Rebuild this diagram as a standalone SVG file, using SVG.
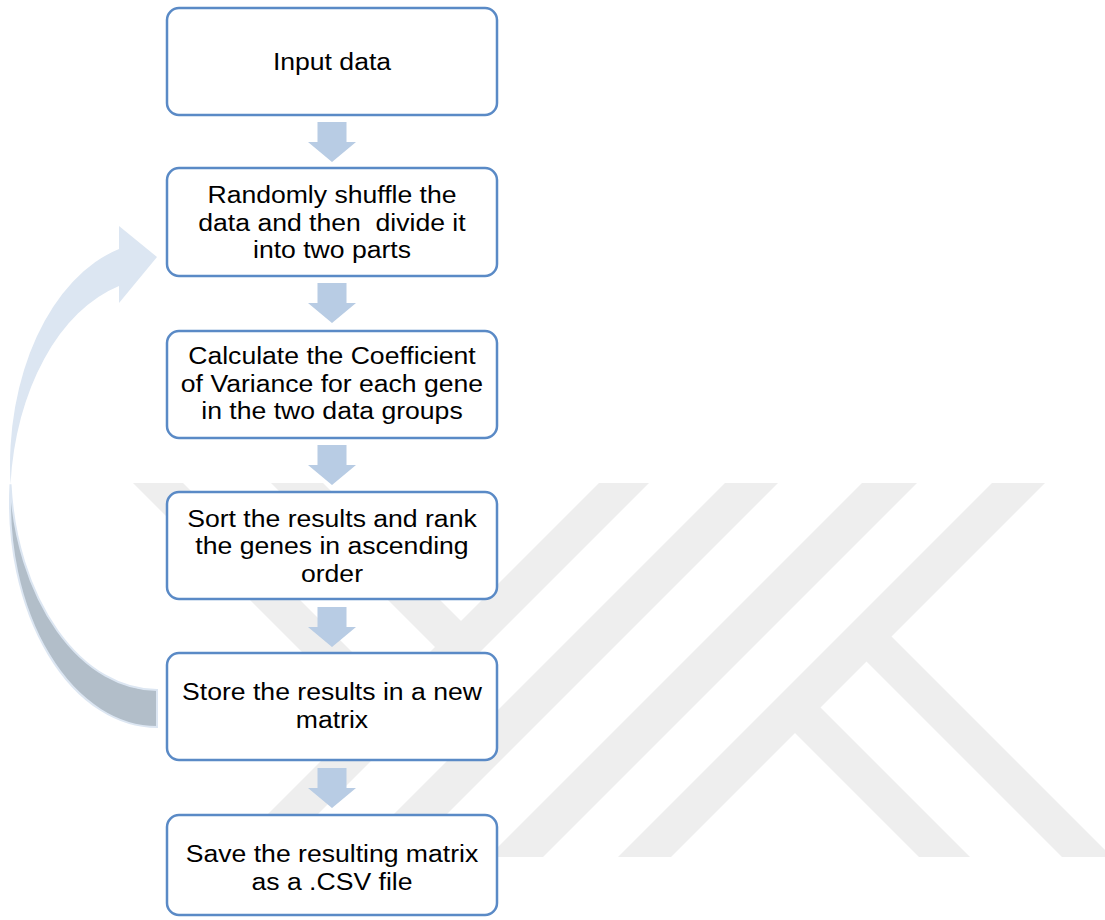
<svg xmlns="http://www.w3.org/2000/svg" width="1105" height="920" viewBox="0 0 1105 920">
  <style>
    .wm { fill: #eeeeee; }
    .box { fill: #ffffff; stroke: #5a8ac6; stroke-width: 2.5; }
    .lbl { font-family: "Liberation Sans", Arial, sans-serif; font-size: 24.5px; fill: #000000; text-anchor: middle; }
    .down { fill: #b8cce4; }
    .face { fill: #dce6f2; }
    .back { fill: #b2bec9; stroke: #dce6f2; stroke-width: 2; }
  </style>
  <defs>
    <path id="downArrow" d="M -14.5 0 L 14.5 0 L 14.5 20 L 24 20 L 0 40 L -24 20 L -14.5 20 Z"/>
  </defs>
  <rect width="1105" height="920" fill="#ffffff"/>

  <!-- watermark -->
  <g id="watermark">
    <polygon class="wm" points="599,483 649,483 275,857 225,857"/>
    <polygon class="wm" points="725,483 778,483 404,857 351,857"/>
    <polygon class="wm" points="862,483 917,483 543,857 488,857"/>
    <polygon class="wm" points="992,483 1045,483 671,857 618,857"/>
    <polygon class="wm" points="133,483 183,483 400,700 375,725"/>
    <polygon class="wm" points="271,483 323,483 470,630 444,656"/>
    <polygon class="wm" points="786,724 811.5,698.5 970,857 919,857"/>
    <polygon class="wm" points="857.5,652.5 882.5,627.5 1112,857 1062,857"/>
  </g>

  <!-- connectors -->
  <g id="connectors">
    <use href="#downArrow" class="down" transform="translate(332,122)"/>
    <use href="#downArrow" class="down" transform="translate(332,283)"/>
    <use href="#downArrow" class="down" transform="translate(332,445)"/>
    <use href="#downArrow" class="down" transform="translate(332,607)"/>
    <use href="#downArrow" class="down" transform="translate(332,768)"/>
    <g id="loop-arrow">
      <path class="back" d="M 10.5 484.2 A 147 224.3 0 0 0 157 727 L 157 690 A 147 224.3 0 0 1 10.5 484.2 Z"/>
      <path class="face" d="M 119 249 L 119 226 L 157 257 L 119 303 L 119 286 A 147 224.3 0 0 0 10.5 484.2 A 147 224.3 0 0 1 119 249 Z"/>
    </g>
  </g>

  <g id="node1">
    <rect class="box" x="167" y="8" width="330" height="107" rx="12"/>
    <g transform="matrix(1.085,0,0,1,-28.22,0)">
      <text class="lbl" x="332" y="70.5">Input data</text>
    </g>
  </g>

  <g id="node2">
    <rect class="box" x="167" y="168" width="330" height="108" rx="12"/>
    <g transform="matrix(1.085,0,0,1,-28.22,0)">
      <text class="lbl" x="332" y="203.3">Randomly shuffle the</text>
      <text class="lbl" x="332" y="230.8" xml:space="preserve">data and then  divide it</text>
      <text class="lbl" x="332" y="258.3">into two parts</text>
    </g>
  </g>

  <g id="node3">
    <rect class="box" x="167" y="331" width="330" height="107" rx="12"/>
    <g transform="matrix(1.085,0,0,1,-28.22,0)">
      <text class="lbl" x="332" y="364.5">Calculate the Coefficient</text>
      <text class="lbl" x="332" y="392">of Variance for each gene</text>
      <text class="lbl" x="332" y="419.5">in the two data groups</text>
    </g>
  </g>

  <g id="node4">
    <rect class="box" x="167" y="492" width="330" height="107" rx="12"/>
    <g transform="matrix(1.085,0,0,1,-28.22,0)">
      <text class="lbl" x="332" y="526.7">Sort the results and rank</text>
      <text class="lbl" x="332" y="554.2">the genes in ascending</text>
      <text class="lbl" x="332" y="581.7">order</text>
    </g>
  </g>

  <g id="node5">
    <rect class="box" x="167" y="653" width="330" height="107" rx="12"/>
    <g transform="matrix(1.085,0,0,1,-28.22,0)">
      <text class="lbl" x="332" y="700.5">Store the results in a new</text>
      <text class="lbl" x="332" y="728">matrix</text>
    </g>
  </g>

  <g id="node6">
    <rect class="box" x="167" y="815" width="330" height="100" rx="12"/>
    <g transform="matrix(1.085,0,0,1,-28.22,0)">
      <text class="lbl" x="332" y="862.5">Save the resulting matrix</text>
      <text class="lbl" x="332" y="890">as a .CSV file</text>
    </g>
  </g>
</svg>
